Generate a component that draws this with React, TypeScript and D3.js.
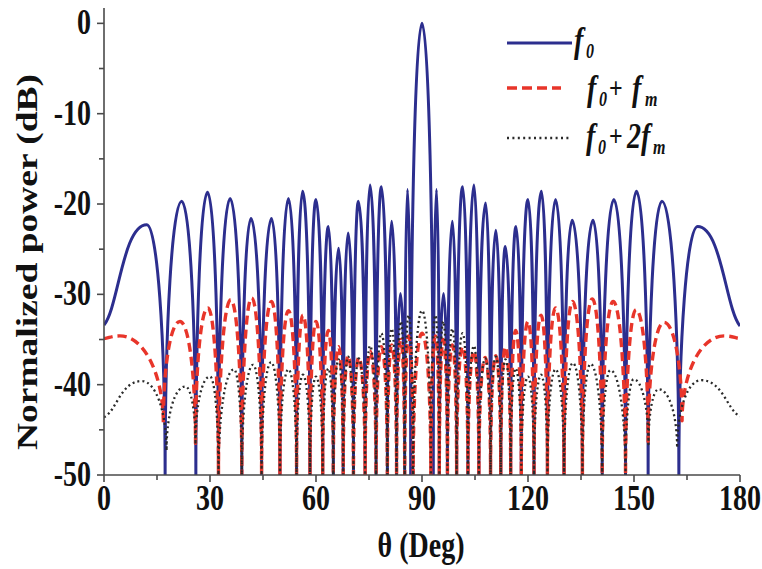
import React from 'react';
import * as d3 from 'd3';

// ---------- data ----------
const X_TICKS = [0, 30, 60, 90, 120, 150, 180];
const X_MINOR = [15, 45, 75, 105, 135, 165];
const Y_TICKS = [0, -10, -20, -30, -40, -50];
const Y_MINOR = [-5, -15, -25, -35, -45];

// f0 : lobe maxima and nulls (theta in deg, power in dB)
const F0: [number, number][] = [
  [0, -33.4], [12.1, -22.3], [17.3, -50], [22.0, -19.7], [26.0, -50], [29.3, -18.7], [32.4, -50],
  [35.7, -19.4], [39.0, -50], [41.6, -21.6], [44.6, -50], [47.4, -21.6], [49.8, -50], [52.2, -19.4],
  [54.5, -50], [56.2, -18.6], [58.3, -50], [60.0, -19.5], [61.9, -50], [63.5, -22.5], [64.9, -50],
  [66.4, -24.9], [67.7, -50], [69.1, -23.2], [70.6, -50], [72.0, -19.7], [73.9, -50], [75.3, -17.9],
  [77.0, -50], [78.5, -18.1], [80.2, -50], [81.4, -21.9], [82.8, -50], [83.9, -29.9], [85.1, -50],
  [85.9, -18.4], [86.8, -50], [90, 0], [93.2, -50], [94.1, -18.4], [94.9, -50], [96.1, -29.9],
  [97.2, -50], [98.6, -21.9], [99.8, -50], [101.5, -18.1], [103.0, -50], [104.7, -17.9], [106.1, -50],
  [108.0, -19.9], [109.4, -50], [110.9, -22.9], [112.3, -50], [113.6, -24.7], [115.1, -50],
  [116.6, -22.5], [118.1, -50], [120.0, -19.5], [121.7, -50], [123.8, -18.6], [125.5, -50],
  [127.8, -19.5], [130.2, -50], [132.5, -21.8], [135.4, -50], [138.4, -21.8], [141.0, -50],
  [144.3, -19.5], [147.6, -50], [150.7, -18.6], [154.0, -50], [157.9, -19.7], [162.7, -50],
  [168.0, -22.5], [180, -33.5],
];

// f0 + fm
const F0_FM: [number, number][] = [
  [0, -34.9], [4.5, -34.6], [16.8, -44.3], [21.5, -33.0], [25.9, -46.5], [29.4, -31.5], [32.4, -50],
  [35.9, -30.6], [39.0, -50], [41.8, -30.4], [44.6, -50], [47.4, -30.8], [49.8, -50], [52.2, -31.8],
  [54.5, -50], [56.3, -32.3], [58.3, -50], [60.0, -33.0], [61.9, -50], [63.5, -34.0], [64.9, -50],
  [66.4, -35.8], [67.7, -50], [69.1, -36.8], [70.6, -50], [72.1, -37.0], [73.9, -50], [75.3, -36.3],
  [77.0, -50], [78.5, -35.8], [80.2, -50], [81.4, -35.6], [82.8, -50], [84.0, -35.0], [85.1, -50],
  [86.2, -34.6], [87.5, -50], [90, -34.3], [92.5, -50], [93.8, -34.6], [94.9, -50], [96.0, -35.0],
  [97.2, -50], [98.6, -35.6], [99.8, -50], [101.5, -35.8], [103.0, -50], [104.7, -36.3], [106.1, -50],
  [107.9, -37.0], [109.4, -50], [110.9, -36.8], [112.3, -50], [113.6, -35.8], [115.1, -50],
  [116.5, -34.0], [118.1, -50], [120.0, -33.0], [121.7, -50], [123.7, -32.3], [125.5, -50],
  [127.8, -31.5], [130.2, -50], [132.6, -30.8], [135.4, -50], [138.2, -30.5], [141.0, -50],
  [144.1, -30.8], [147.6, -50], [150.6, -31.7], [154.0, -46.3], [158.5, -33.1], [163.6, -44.0],
  [175.5, -34.6], [180, -34.9],
];

// f0 + 2fm
const F0_2FM: [number, number][] = [
  [0, -43.6], [10.7, -39.6], [17.7, -47.3], [23.0, -40.2], [25.9, -46.6], [30.0, -39.1], [32.4, -50],
  [36.8, -38.3], [39.0, -50], [42.2, -37.8], [44.6, -50], [47.3, -37.5], [49.8, -50], [52.2, -38.3],
  [54.5, -50], [56.3, -38.9], [58.3, -50], [60.0, -39.1], [61.9, -50], [63.5, -38.2], [64.9, -50],
  [66.4, -37.2], [67.7, -50], [69.1, -36.9], [70.6, -50], [72.1, -37.1], [73.9, -50], [75.3, -35.7],
  [77.0, -50], [78.5, -34.3], [80.2, -50], [81.4, -33.8], [82.8, -50], [84.0, -33.0], [85.1, -50],
  [86.2, -32.3], [87.5, -50], [90, -31.8], [92.5, -50], [93.8, -32.3], [94.9, -50], [96.0, -33.0],
  [97.2, -50], [98.6, -33.8], [99.8, -50], [101.5, -34.3], [103.0, -50], [104.7, -35.7], [106.1, -50],
  [107.9, -37.1], [109.4, -50], [110.9, -36.9], [112.3, -50], [113.6, -37.2], [115.1, -50],
  [116.5, -38.2], [118.1, -50], [120.0, -39.1], [121.7, -50], [123.7, -38.9], [125.5, -50],
  [127.8, -38.3], [130.2, -50], [132.7, -37.6], [135.4, -50], [137.7, -37.7], [141.0, -50],
  [143.3, -38.4], [147.6, -50], [149.9, -39.4], [154.1, -46.6], [157.0, -40.5], [162.2, -47.0],
  [169.0, -39.5], [180, -43.5],
];

// ---------- layout ----------
const W = 762;
const H = 569;
const X_DOMAIN: [number, number] = [0, 180];
const Y_DOMAIN: [number, number] = [-50, 1.7];
const SY = 1.25; // vertical stretch of the glyphs in the reference
const FONT = "'Times New Roman', 'Liberation Serif', 'DejaVu Serif', serif";

const BLUE = '#2c2e8e';
const RED = '#e8352a';
const DARK = '#2a2a2a';

// custom d3 curve: lobes with flat tops and steep flanks into nulls
function lobeCurve(context: any) {
  let pts: number[][] = [];
  const K = 0.56;
  return {
    areaStart() {},
    areaEnd() {},
    lineStart() {
      pts = [];
    },
    point(x: number, y: number) {
      pts.push([+x, +y]);
    },
    lineEnd() {
      const n = pts.length;
      if (!n) return;
      const kind = pts.map((p, i) => {
        if (i === 0 || i === n - 1) return 'end';
        const a = pts[i - 1][1];
        const b = pts[i + 1][1];
        if (p[1] <= a && p[1] <= b) return 'max';
        if (p[1] >= a && p[1] >= b) return 'min';
        return 'mid';
      });
      const ctrl = (i: number, j: number) => {
        const P = pts[i];
        const Q = pts[j];
        const dx = Q[0] - P[0];
        const dy = Q[1] - P[1];
        const k = kind[i];
        if (k === 'max') return [P[0] + K * dx, P[1]];
        if (k === 'min') return [P[0], P[1] + K * dy];
        let s: number;
        if (k === 'end') s = (0.5 * dy) / dx;
        else s = (pts[i + 1][1] - pts[i - 1][1]) / (pts[i + 1][0] - pts[i - 1][0]);
        return [P[0] + dx / 3, P[1] + (s * dx) / 3];
      };
      context.moveTo(pts[0][0], pts[0][1]);
      for (let i = 0; i < n - 1; i++) {
        const c1 = ctrl(i, i + 1);
        const c2 = ctrl(i + 1, i);
        context.bezierCurveTo(c1[0], c1[1], c2[0], c2[1], pts[i + 1][0], pts[i + 1][1]);
      }
    },
  };
}

function STxt(props: {
  x: number;
  y: number;
  size: number;
  anchor?: string;
  rotate?: number;
  children: React.ReactNode;
}) {
  const { x, y, size, anchor = 'start', rotate = 0, children } = props;
  return (
    <g transform={`translate(${x},${y}) scale(1,${SY}) rotate(${rotate})`}>
      <text
        x={0}
        y={0}
        fontSize={size}
        fontWeight="bold"
        textAnchor={anchor}
        fill="#111"
        style={{ fontFamily: FONT }}
      >
        {children}
      </text>
    </g>
  );
}

export default function App() {
  const x = d3.scaleLinear().domain(X_DOMAIN).range([104, 740]);
  const y = d3.scaleLinear().domain(Y_DOMAIN).range([475, 8]);

  const line = d3
    .line<[number, number]>()
    .x((d) => x(d[0]))
    .y((d) => y(d[1]))
    .curve(lobeCurve as any);

  const x0 = x(X_DOMAIN[0]);
  const x1 = x(X_DOMAIN[1]);
  const yb = y(-50);
  const yt = y(Y_DOMAIN[1]);
  const axisColor = '#4a4a4a';
  const legTxt = { fontFamily: FONT, fontWeight: 'bold' as const };

  return (
    <svg
      width={W}
      height={H}
      viewBox={`0 0 ${W} ${H}`}
      style={{ position: 'absolute', left: 0, top: 0, background: '#fff' }}
    >
      <defs>
        <clipPath id="plotClip">
          <rect x={x0} y={0} width={x1 - x0} height={yb} />
        </clipPath>
      </defs>
      <rect x={0} y={0} width={W} height={H} fill="#fff" />

      <g clipPath="url(#plotClip)" fill="none" strokeLinejoin="round">
        <path d={line(F0) || ''} stroke={BLUE} strokeWidth={3} />
        <path d={line(F0_FM) || ''} stroke={RED} strokeWidth={3.4} strokeDasharray="9,5" />
        <path d={line(F0_2FM) || ''} stroke={DARK} strokeWidth={2.3} strokeDasharray="2,3" />
      </g>

      {/* axes */}
      <g stroke={axisColor} strokeWidth={1.6} fill="none">
        <line x1={x0} x2={x0} y1={yt} y2={yb} />
        <line x1={x0} x2={x1} y1={yb} y2={yb} />
        {Y_TICKS.map((t) => (
          <line key={'yt' + t} x1={x0 - 7} x2={x0} y1={y(t)} y2={y(t)} />
        ))}
        {Y_MINOR.map((t) => (
          <line key={'ym' + t} x1={x0 - 5} x2={x0} y1={y(t)} y2={y(t)} />
        ))}
        {X_TICKS.map((t) => (
          <line key={'xt' + t} x1={x(t)} x2={x(t)} y1={yb} y2={yb + 7} />
        ))}
        {X_MINOR.map((t) => (
          <line key={'xm' + t} x1={x(t)} x2={x(t)} y1={yb} y2={yb + 5} />
        ))}
      </g>

      {Y_TICKS.map((t) => (
        <STxt key={'yl' + t} x={x0 - 13} y={y(t) + 11} size={28} anchor="end">
          {String(t)}
        </STxt>
      ))}
      {X_TICKS.map((t) => (
        <STxt key={'xl' + t} x={x(t)} y={510} size={28} anchor="middle">
          {String(t)}
        </STxt>
      ))}

      <STxt x={421} y={557} size={28} anchor="middle">
        θ (Deg)
      </STxt>
      <STxt x={37} y={262} size={30} anchor="middle" rotate={-90}>
        Normalized power (dB)
      </STxt>

      {/* legend */}
      <line x1={507} x2={572} y1={43} y2={43} stroke={BLUE} strokeWidth={3} />
      <line x1={507} x2={561} y1={88} y2={88} stroke={RED} strokeWidth={3.4} strokeDasharray="10,5" />
      <line x1={507} x2={570} y1={138} y2={138} stroke={DARK} strokeWidth={2.3} strokeDasharray="2,3.4" />

      <g transform={`translate(0,52) scale(1,${SY})`} fill="#111" style={legTxt}>
        <text x={574} y={0} fontSize={28} fontStyle="italic">f</text>
        <text x={586} y={5} fontSize={16} fontStyle="italic">0</text>
      </g>
      <g transform={`translate(0,100) scale(1,${SY})`} fill="#111" style={legTxt}>
        <text x={587} y={0} fontSize={28} fontStyle="italic">f</text>
        <text x={599} y={5} fontSize={16} fontStyle="italic">0</text>
        <text x={609} y={-2} fontSize={24}>+</text>
        <text x={632} y={0} fontSize={28} fontStyle="italic">f</text>
        <text x={645} y={5} fontSize={16} fontStyle="italic">m</text>
      </g>
      <g transform={`translate(0,148) scale(1,${SY})`} fill="#111" style={legTxt}>
        <text x={586} y={0} fontSize={28} fontStyle="italic">f</text>
        <text x={598} y={5} fontSize={16} fontStyle="italic">0</text>
        <text x={609} y={-2} fontSize={24}>+</text>
        <text x={627} y={0} fontSize={28} fontStyle="italic">2</text>
        <text x={641} y={0} fontSize={28} fontStyle="italic">f</text>
        <text x={653} y={5} fontSize={16} fontStyle="italic">m</text>
      </g>
    </svg>
  );
}
